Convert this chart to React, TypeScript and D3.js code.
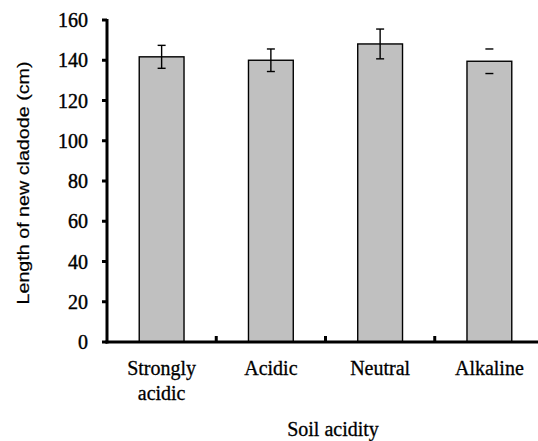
import { useEffect, useRef } from 'react'
import * as d3 from 'd3'

const categories = ['Strongly acidic', 'Acidic', 'Neutral', 'Alkaline']
const lengths = [141.7, 140.0, 148.1, 139.5]
const errors = [5.7, 5.6, 7.4, 6.1]
// the Alkaline bar only shows its caps in the original
const showStem = [true, true, true, false]
const yTicks = [0, 20, 40, 60, 80, 100, 120, 140, 160]

const serif = '"Liberation Serif", "Times New Roman", serif'

export default function App() {
  const svgRef = useRef<SVGSVGElement>(null)
  const width = 538
  const height = 441

  useEffect(() => {
    if (!svgRef.current) return
    const svg = d3.select(svgRef.current)
    svg.selectAll('*').remove()

    const x = d3.scaleBand<string>()
      .domain(categories)
      .range([107, 544])
      .paddingInner(0.59)
      .paddingOuter(0.295)

    const y = d3.scaleLinear().domain([0, 160]).range([342, 20])

    const data = categories.map((c, i) => ({ c, v: lengths[i], e: errors[i], stem: showStem[i] }))

    // bars
    svg.append('g')
      .selectAll('rect')
      .data(data)
      .enter().append('rect')
      .attr('x', d => x(d.c)!)
      .attr('y', d => y(d.v))
      .attr('width', x.bandwidth())
      .attr('height', d => y(0) - y(d.v))
      .attr('fill', '#c0c0c0')
      .attr('stroke', '#000')
      .attr('stroke-width', 1.4)

    // error bars
    const eb = svg.append('g').attr('stroke', '#000').attr('stroke-width', 1.4)
    data.forEach(d => {
      const cx = x(d.c)! + x.bandwidth() / 2
      if (d.stem) {
        eb.append('line')
          .attr('x1', cx).attr('x2', cx)
          .attr('y1', y(d.v + d.e)).attr('y2', y(d.v - d.e))
      }
      ;[d.v + d.e, d.v - d.e].forEach(val => {
        eb.append('line')
          .attr('x1', cx - 4).attr('x2', cx + 4)
          .attr('y1', y(val)).attr('y2', y(val))
      })
    })

    // y axis
    const ya = svg.append('g')
    ya.append('line')
      .attr('x1', 107).attr('x2', 107)
      .attr('y1', y(160) - 1).attr('y2', y(0) + 1.5)
      .attr('stroke', '#000').attr('stroke-width', 3)
    ya.selectAll('line.tick')
      .data(yTicks)
      .enter().append('line')
      .attr('class', 'tick')
      .attr('x1', 102).attr('x2', 107)
      .attr('y1', d => y(d)).attr('y2', d => y(d))
      .attr('stroke', '#000').attr('stroke-width', 3)
    ya.selectAll('text')
      .data(yTicks)
      .enter().append('text')
      .attr('x', 88)
      .attr('y', d => y(d))
      .attr('dy', '0.35em')
      .attr('text-anchor', 'end')
      .attr('font-family', serif)
      .attr('font-size', 20)
      .attr('fill', '#000')
      .attr('stroke', '#000')
      .attr('stroke-width', 0.4)
      .text(d => d)

    // x axis
    const xa = svg.append('g')
    xa.append('line')
      .attr('x1', 105.5).attr('x2', 544)
      .attr('y1', y(0)).attr('y2', y(0))
      .attr('stroke', '#000').attr('stroke-width', 3)
    xa.selectAll('line.tick')
      .data(categories.slice(1))
      .enter().append('line')
      .attr('class', 'tick')
      .attr('x1', d => x(d)! - x.step() * x.paddingInner() / 2)
      .attr('x2', d => x(d)! - x.step() * x.paddingInner() / 2)
      .attr('y1', y(0)).attr('y2', y(0) - 6)
      .attr('stroke', '#000').attr('stroke-width', 3)

    const labels = xa.selectAll('text')
      .data(categories)
      .enter().append('text')
      .attr('x', d => x(d)! + x.bandwidth() / 2)
      .attr('y', 375)
      .attr('text-anchor', 'middle')
      .attr('font-family', serif)
      .attr('font-size', 20)
      .attr('fill', '#000')
      .attr('stroke', '#000')
      .attr('stroke-width', 0.3)
    labels.each(function (d) {
      const parts = d === 'Strongly acidic' ? ['Strongly', 'acidic'] : [d]
      const t = d3.select(this)
      parts.forEach((p, i) => {
        t.append('tspan')
          .attr('x', x(d)! + x.bandwidth() / 2)
          .attr('dy', i === 0 ? 0 : 25)
          .text(p)
      })
    })

    // axis titles
    svg.append('text')
      .attr('x', 333)
      .attr('y', 436)
      .attr('text-anchor', 'middle')
      .attr('font-family', serif)
      .attr('font-size', 20)
      .attr('fill', '#000')
      .attr('stroke', '#000')
      .attr('stroke-width', 0.3)
      .text('Soil acidity')

    svg.append('text')
      .attr('transform', 'translate(29,183) rotate(-90)')
      .attr('text-anchor', 'middle')
      .attr('font-family', '"Liberation Sans", Arial, sans-serif')
      .attr('font-size', 17)
      .attr('textLength', 243)
      .attr('lengthAdjust', 'spacingAndGlyphs')
      .attr('fill', '#000')
      .attr('stroke', '#000')
      .attr('stroke-width', 0.2)
      .text('Length of new cladode (cm)')
  }, [])

  return (
    <svg
      ref={svgRef}
      width={width}
      height={height}
      style={{ position: 'absolute', left: 0, top: 0, background: '#fff' }}
    />
  )
}
